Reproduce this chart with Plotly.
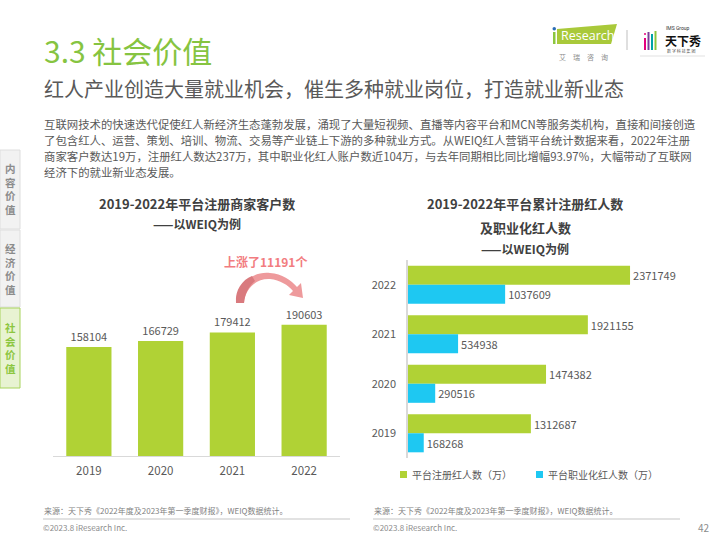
import plotly.graph_objects as go

# ---------------- data ----------------
years = ["2019", "2020", "2021", "2022"]
merchant_clients = [158104, 166729, 179412, 190603]
registered_kols = [1312687, 1474382, 1921155, 2371749]
professional_kols = [168268, 290516, 534938, 1037609]
legend_names = ["平台注册红人数（万）", "平台职业化红人数（万）"]
increase_label = "上涨了11191个"

W, H = 720, 540
FONT = "Noto Sans CJK SC, Noto Sans, sans-serif"
GREEN = "#b0d235"
BLUE = "#1ec8f2"
GRAY = "#595959"


def px(x):
    return x / W


def py(y):
    return 1 - y / H


def P(x, y):
    return f"{px(x):.5f},{py(y):.5f}"


fig = go.Figure()

# left chart: merchant clients
fig.add_trace(go.Bar(
    x=years, y=merchant_clients, xaxis="x", yaxis="y",
    marker=dict(color=GREEN, line=dict(width=0)),
    width=0.63,
    text=[str(v) for v in merchant_clients], textposition="outside",
    textfont=dict(size=11, color=GRAY, family=FONT),
    cliponaxis=False, showlegend=False,
))

# right chart: KOLs
fig.add_trace(go.Bar(
    y=years, x=registered_kols, orientation="h", xaxis="x2", yaxis="y2",
    marker=dict(color=GREEN, line=dict(width=0)),
    width=0.385, offset=0,
    text=[str(v) for v in registered_kols], textposition="outside",
    textfont=dict(size=11, color=GRAY, family=FONT),
    cliponaxis=False, name=legend_names[0], showlegend=False,
))
fig.add_trace(go.Bar(
    y=years, x=professional_kols, orientation="h", xaxis="x2", yaxis="y2",
    marker=dict(color=BLUE, line=dict(width=0)),
    width=0.385, offset=-0.385,
    text=[str(v) for v in professional_kols], textposition="outside",
    textfont=dict(size=11, color=GRAY, family=FONT),
    cliponaxis=False, name=legend_names[1], showlegend=False,
))

annotations = []
shapes = []


def ann(text, x, y, size, color=GRAY, bold=False, xanchor="left", family=FONT):
    if bold:
        text = f"<b>{text}</b>"
    annotations.append(dict(
        text=text, x=px(x), y=py(y), xref="paper", yref="paper",
        xanchor=xanchor, yanchor="middle", showarrow=False,
        font=dict(size=size, color=color, family=family),
    ))


# headings
ann("3.3 社会价值", 42, 50, 30, color="#86c441")
ann("红人产业创造大量就业机会，催生多种就业岗位，打造就业新业态", 42, 88, 20, color=GRAY)

para = [
    "互联网技术的快速迭代促使红人新经济生态蓬勃发展，涌现了大量短视频、直播等内容平台和MCN等服务类机构，直接和间接创造",
    "了包含红人、运营、策划、培训、物流、交易等产业链上下游的多种就业方式。从WEIQ红人营销平台统计数据来看，2022年注册",
    "商家客户数达19万，注册红人数达237万，其中职业化红人账户数近104万，与去年同期相比同比增幅93.97%，大幅带动了互联网",
    "经济下的就业新业态发展。",
]
for i, line in enumerate(para):
    ann(line, 42, 124 + 16 * i, 11.4, color=GRAY)

# chart titles
ann("2019-2022年平台注册商家客户数", 197, 203, 13, color="#404040", bold=True, xanchor="center")
ann("——以WEIQ为例", 197, 224, 12, color="#404040", bold=True, xanchor="center")
ann("2019-2022年平台累计注册红人数", 525, 203, 13, color="#404040", bold=True, xanchor="center")
ann("及职业化红人数", 525, 227, 13, color="#404040", bold=True, xanchor="center")
ann("——以WEIQ为例", 525, 248, 12, color="#404040", bold=True, xanchor="center")

# increase note
ann(increase_label, 265, 261, 12, color="#f27c80", bold=True, xanchor="center")

# legend (drawn manually to match the tight symbol/text spacing)
for (lx, col), name in zip([(400, GREEN), (536, BLUE)], legend_names):
    shapes.append(dict(type="rect", xref="paper", yref="paper",
                       x0=px(lx), x1=px(lx + 7), y0=py(478), y1=py(471),
                       fillcolor=col, line=dict(width=0)))
    ann(name, lx + 10, 474, 10, color=GRAY)

# side tabs
tabs = [("内<br>容<br>价<br>值", 150, 229, False),
        ("经<br>济<br>价<br>值", 230, 307, False),
        ("社<br>会<br>价<br>值", 308, 388, True)]
for text, y0, y1, active in tabs:
    shapes.append(dict(
        type="rect", xref="paper", yref="paper",
        x0=px(0), x1=px(20), y0=py(y1), y1=py(y0),
        fillcolor="#e8f3d2" if active else "#f2f2f2",
        line=dict(color="#a8d35c" if active else "#dedede", width=1),
        layer="below",
    ))
    annotations.append(dict(
        text=f"<b>{text}</b>", x=px(10), y=py((y0 + y1) / 2), xref="paper", yref="paper",
        xanchor="center", yanchor="middle", showarrow=False,
        font=dict(size=10.5, color="#8cc63f" if active else "#8c8c8c", family=FONT),
    ))

# footers
for x0, x1 in [(43, 350), (373, 680)]:
    shapes.append(dict(type="line", xref="paper", yref="paper",
                       x0=px(x0), x1=px(x1), y0=py(519), y1=py(519),
                       line=dict(color="#d9d9d9", width=1.5)))
    ann("来源：天下秀《2022年度及2023年第一季度财报》，WEIQ数据统计。", x0 - 1, 510, 8, color="#7f7f7f")
    ann("©2023.8 iResearch Inc.", x0 - 2, 527, 8, color="#8c8c8c")
ann("42", 712, 527, 10, color="#8c8c8c", xanchor="right")

# curved arrow (two layers for a darker lower-left end)
arrow_path = ("M " + P(236, 303) + " C " + P(235, 285) + " " + P(252, 271) + " " + P(270, 273)
              + " C " + P(282, 274) + " " + P(291, 280) + " " + P(297, 287)
              + " L " + P(301, 283) + " L " + P(303, 298) + " L " + P(289, 295)
              + " L " + P(293, 291)
              + " C " + P(288, 285) + " " + P(280, 280) + " " + P(270, 279)
              + " C " + P(256, 278) + " " + P(245, 289) + " " + P(244, 303) + " Z")
shapes.append(dict(type="path", xref="paper", yref="paper", path=arrow_path,
                   fillcolor="#ee9a9c", line=dict(width=0)))
arrow_dark = ("M " + P(236, 303) + " C " + P(235, 290) + " " + P(242, 280) + " " + P(252, 276)
              + " L " + P(255, 281) + " C " + P(249, 286) + " " + P(245, 293) + " " + P(244, 303) + " Z")
shapes.append(dict(type="path", xref="paper", yref="paper", path=arrow_dark,
                   fillcolor="#d97a7e", line=dict(width=0)))

# logos
logo_path = "M " + P(557, 29) + " L " + P(617, 24) + " L " + P(611, 44) + " L " + P(557, 44) + " Z"
shapes.append(dict(type="path", xref="paper", yref="paper", path=logo_path,
                   fillcolor="#a9c93a", line=dict(width=0)))
shapes.append(dict(type="rect", xref="paper", yref="paper",
                   x0=px(553), x1=px(555.5), y0=py(44), y1=py(32),
                   fillcolor="#8cc63f", line=dict(width=0)))
shapes.append(dict(type="circle", xref="paper", yref="paper",
                   x0=px(552.5), x1=px(556), y0=py(30.5), y1=py(27),
                   fillcolor="#2a6db5", line=dict(width=0)))
ann("Research", 559, 36, 12.5, color="#ffffff", family="Open Sans")
ann("艾　瑞　咨　询", 583, 57, 7, color="#8c8c8c", xanchor="center")
shapes.append(dict(type="line", xref="paper", yref="paper",
                   x0=px(627), x1=px(627), y0=py(50), y1=py(30),
                   line=dict(color="#bfbfbf", width=1)))
for bx, ytop, col in [(644, 38, "#e5007e"), (647.5, 32, "#7b3f98"),
                      (651, 34, "#00a3a6"), (654.5, 31, "#8cc63f")]:
    shapes.append(dict(type="rect", xref="paper", yref="paper",
                       x0=px(bx), x1=px(bx + 2), y0=py(50), y1=py(ytop),
                       fillcolor=col, line=dict(width=0)))
shapes.append(dict(type="circle", xref="paper", yref="paper",
                   x0=px(644), x1=px(646), y0=py(35), y1=py(33),
                   fillcolor="#e5007e", line=dict(width=0)))
ann("IMS Group", 664, 28, 5, color="#333333", family="Roboto")
ann("天下秀", 663, 40.5, 12, color="#111111", bold=True)
ann("数 字 科 技 集 团", 665, 51, 4, color="#555555")
shapes.append(dict(type="line", xref="paper", yref="paper",
                   x0=px(640), x1=px(705), y0=py(56), y1=py(56),
                   line=dict(color="#cccccc", width=0.6)))

fig.update_layout(
    width=W, height=H,
    margin=dict(l=0, r=0, t=0, b=0),
    paper_bgcolor="white", plot_bgcolor="rgba(0,0,0,0)",
    font=dict(family=FONT, color=GRAY),
    barmode="overlay",
    showlegend=False,
    hovermode=False,
    xaxis=dict(domain=[px(53), px(340)], type="category",
               showline=True, linecolor="#d9d9d9", linewidth=1,
               showgrid=False, zeroline=False, ticks="",
               tickfont=dict(size=11.5, color=GRAY, family=FONT), ticklabelstandoff=4,
               anchor="y", fixedrange=True),
    yaxis=dict(domain=[py(456), py(300)], range=[0, 226400],
               visible=False, anchor="x", fixedrange=True),
    xaxis2=dict(domain=[px(408), px(700)], range=[0, 3119000],
                visible=False, anchor="y2", fixedrange=True),
    yaxis2=dict(domain=[py(458), py(260)], type="category",
                showline=True, linecolor="#d9d9d9", linewidth=1.5,
                showgrid=False, zeroline=False, ticks="",
                tickfont=dict(size=11, color=GRAY, family=FONT), ticklabelstandoff=8,
                anchor="x2", fixedrange=True),
    annotations=annotations,
    shapes=shapes,
)

fig.write_html(
    "out.html",
    config={"displayModeBar": False},
    post_script="document.body.style.margin='0';document.body.style.overflow='hidden';",
)
